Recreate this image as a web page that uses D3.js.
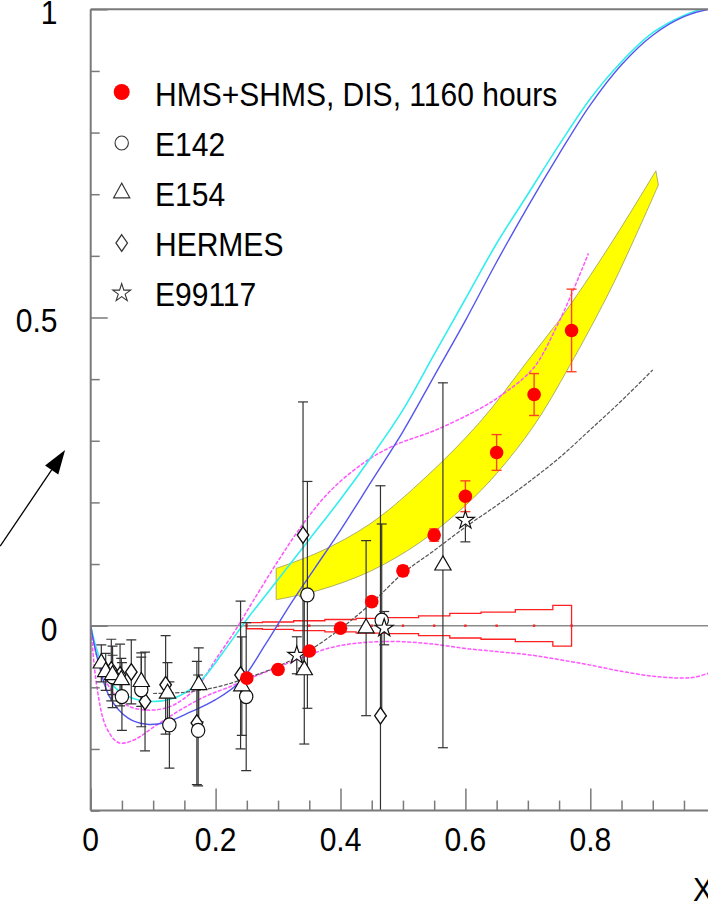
<!DOCTYPE html>
<html><head><meta charset="utf-8">
<script src="https://cdn.jsdelivr.net/npm/d3@7"></script>
<style>html,body{margin:0;padding:0;background:#fff;overflow:hidden}
text{font-family:"Liberation Sans",Arial,Helvetica,sans-serif;font-size:33px;fill:#000}</style>
</head><body><svg id="c" width="708" height="907"></svg>
<script>
// ---------------- data ----------------
const hmsX   = [0.25, 0.30, 0.35, 0.40, 0.45, 0.50, 0.55, 0.60, 0.65, 0.71, 0.77];
const hmsY   = [-0.085, -0.071, -0.041, -0.004, 0.039, 0.089, 0.147, 0.210, 0.281, 0.375, 0.479];
const hmsErr = [0.004, 0.004, 0.005, 0.006, 0.007, 0.008, 0.010, 0.025, 0.029, 0.034, 0.067];
const hmsSys = [0.005, 0.006, 0.008, 0.010, 0.012, 0.013, 0.016, 0.020, 0.022, 0.026, 0.033];

const e142X   = [0.035, 0.050, 0.081, 0.126, 0.172, 0.249, 0.347, 0.466];
const e142Y   = [-0.083, -0.115, -0.104, -0.161, -0.170, -0.115, 0.050, 0.009];
const e142Err = [0.050, 0.055, 0.060, 0.070, 0.090, 0.120, 0.184, 0.156];

const e154X   = [0.017, 0.024, 0.035, 0.049, 0.081, 0.123, 0.173, 0.242, 0.342, 0.441, 0.564];
const e154Y   = [-0.061, -0.075, -0.080, -0.088, -0.091, -0.110, -0.096, -0.098, -0.072, -0.004, 0.098];
const e154Err = [0.030, 0.030, 0.032, 0.035, 0.040, 0.050, 0.060, 0.080, 0.120, 0.142, 0.296];

const hermesX   = [0.033, 0.047, 0.065, 0.087, 0.120, 0.170, 0.240, 0.340, 0.464];
const hermesY   = [-0.072, -0.080, -0.075, -0.123, -0.096, -0.158, -0.080, 0.147, -0.146];
const hermesErr = [0.050, 0.050, 0.052, 0.080, 0.080, 0.100, 0.120, 0.216, 0.373];

const e99X   = [0.33, 0.47, 0.60];
const e99Y   = [-0.048, -0.004, 0.171];
const e99Err = [0.030, 0.027, 0.035];

// model curves: [x, y]
const cyanCurve = [[0,0],[0.01,-0.04],[0.03,-0.09],[0.06,-0.115],[0.10,-0.123],[0.14,-0.115],[0.18,-0.085],[0.21,-0.046],[0.25,0.01],[0.30,0.075],[0.35,0.14],[0.40,0.205],[0.45,0.275],[0.50,0.35],[0.55,0.44],[0.60,0.53],[0.65,0.62],[0.70,0.70],[0.75,0.78],[0.80,0.855],[0.85,0.915],[0.90,0.962],[0.95,0.99],[0.98,1.0],[1.0,1.0]];
const blueCurve = [[0,0],[0.01,-0.05],[0.03,-0.115],[0.06,-0.15],[0.09,-0.16],[0.12,-0.157],[0.16,-0.14],[0.20,-0.12],[0.24,-0.09],[0.28,-0.03],[0.32,0.035],[0.36,0.095],[0.40,0.155],[0.45,0.235],[0.50,0.315],[0.55,0.405],[0.60,0.495],[0.65,0.59],[0.70,0.68],[0.75,0.765],[0.80,0.845],[0.85,0.91],[0.90,0.958],[0.95,0.988],[0.99,1.0],[1.0,1.0]];
const magUpper = [[0,0],[0.01,-0.05],[0.03,-0.10],[0.06,-0.13],[0.095,-0.137],[0.13,-0.13],[0.17,-0.10],[0.20,-0.055],[0.23,-0.01],[0.26,0.04],[0.30,0.105],[0.34,0.165],[0.383,0.218],[0.437,0.264],[0.485,0.292],[0.554,0.318],[0.623,0.352],[0.655,0.372],[0.709,0.418],[0.746,0.485],[0.773,0.545],[0.797,0.604]];
const magLower = [[0,0],[0.01,-0.10],[0.025,-0.165],[0.045,-0.19],[0.07,-0.185],[0.10,-0.165],[0.143,-0.137],[0.183,-0.115],[0.223,-0.099],[0.263,-0.082],[0.303,-0.066],[0.343,-0.05],[0.383,-0.036],[0.42,-0.029],[0.46,-0.026],[0.50,-0.026],[0.55,-0.03],[0.60,-0.037],[0.65,-0.042],[0.70,-0.047],[0.75,-0.055],[0.80,-0.064],[0.85,-0.074],[0.90,-0.082],[0.95,-0.085],[0.97,-0.083],[0.99,-0.077],[1.0,-0.075]];
const blackCurve = [[0.10,-0.11],[0.15,-0.108],[0.20,-0.10],[0.25,-0.085],[0.30,-0.066],[0.35,-0.04],[0.40,-0.005],[0.45,0.037],[0.50,0.085],[0.55,0.122],[0.60,0.16],[0.65,0.195],[0.70,0.232],[0.75,0.272],[0.80,0.318],[0.85,0.365],[0.90,0.415]];
const bandUpper = [[0.297,0.093],[0.367,0.12],[0.447,0.165],[0.527,0.232],[0.623,0.33],[0.70,0.43],[0.762,0.512],[0.837,0.626],[0.905,0.738]];
const bandLower = [[0.297,0.042],[0.367,0.058],[0.447,0.088],[0.527,0.135],[0.60,0.195],[0.65,0.247],[0.71,0.325],[0.766,0.42],[0.837,0.555],[0.909,0.715]];

const xMajor = [0, 0.2, 0.4, 0.6, 0.8, 1.0];
const xLabels = ["0", "0.2", "0.4", "0.6", "0.8", "1"];
const yMajor = [0, 0.5, 1];
const yLabels = ["0", "0.5", "1"];
const legendItems = ["HMS+SHMS, DIS, 1160 hours", "E142", "E154", "HERMES", "E99117"];
const arrowTail = [-0.145, 0.129];
const arrowTip = [-0.041, 0.285];

// ---------------- drawing ----------------
const svg = d3.select("#c");
const W = 708, H = 907;
const x = d3.scaleLinear().domain([0, 1]).range([90.7, 715.2]);
const y = d3.scaleLinear().domain([-0.3, 1]).range([810.6, 9.3]);
const axisCol = "#7a7a7a";

svg.append("defs").append("clipPath").attr("id", "pc")
  .append("rect").attr("x", x(0)).attr("y", y(1)).attr("width", x(1) - x(0)).attr("height", y(-0.3) - y(1));

const plot = svg.append("g").attr("clip-path", "url(#pc)");

// zero line
plot.append("line").attr("x1", x(0)).attr("x2", x(1)).attr("y1", y(0)).attr("y2", y(0))
  .attr("stroke", "#8a8a8a").attr("stroke-width", 1.5);

// yellow band
const smooth = d3.line().x(d => x(d[0])).y(d => y(d[1])).curve(d3.curveCatmullRom.alpha(0.5));
const upPath = smooth(bandUpper);
const loPath = smooth(bandLower.slice().reverse());
plot.append("path")
  .attr("d", upPath + "L" + loPath.slice(1) + "Z")
  .attr("fill", "#ffff00").attr("stroke", "#9a9a60").attr("stroke-width", 0.8);

// red systematic box (stepped)
const sysData = hmsX.map((v, i) => ({x: v, s: hmsSys[i]}));
plot.append("path")
  .attr("d", d3.area().x(d => x(d.x)).y0(d => y(-d.s)).y1(d => y(d.s)).curve(d3.curveStep)(sysData))
  .attr("fill", "none").attr("stroke", "#ff2020").attr("stroke-width", 1.3);
plot.selectAll(".sysdot").data(hmsX).join("rect")
  .attr("x", d => x(d) - 1.2).attr("y", y(0) - 1.2).attr("width", 2.4).attr("height", 2.4).attr("fill", "#ff2020");

// curves
const ln = smooth;
plot.append("path").attr("d", ln(magLower)).attr("fill", "none").attr("stroke", "#ff55ff").attr("stroke-width", 1.5).attr("stroke-dasharray", "4,1.5");
plot.append("path").attr("d", ln(magUpper)).attr("fill", "none").attr("stroke", "#ff55ff").attr("stroke-width", 1.5).attr("stroke-dasharray", "4,1.5");
plot.append("path").attr("d", ln(cyanCurve)).attr("fill", "none").attr("stroke", "#33eeee").attr("stroke-width", 1.6);
plot.append("path").attr("d", ln(blueCurve)).attr("fill", "none").attr("stroke", "#5555ee").attr("stroke-width", 1.4);
plot.append("path").attr("d", ln(blackCurve)).attr("fill", "none").attr("stroke", "#555").attr("stroke-width", 1.2).attr("stroke-dasharray", "4,1.5");

// error bars helper
function errBars(xs, ys, es, col, w) {
  const g = plot.append("g").attr("stroke", col).attr("stroke-width", w);
  xs.forEach((v, i) => {
    g.append("line").attr("x1", x(v)).attr("x2", x(v)).attr("y1", y(ys[i] - es[i])).attr("y2", y(ys[i] + es[i]));
    [ys[i] - es[i], ys[i] + es[i]].forEach(t => {
      g.append("line").attr("x1", x(v) - 5).attr("x2", x(v) + 5).attr("y1", y(t)).attr("y2", y(t));
    });
  });
}
errBars(hermesX, hermesY, hermesErr, "#333", 1.2);
errBars(e142X, e142Y, e142Err, "#333", 1.2);
errBars(e154X, e154Y, e154Err, "#333", 1.2);
errBars(e99X, e99Y, e99Err, "#333", 1.2);
errBars(hmsX, hmsY, hmsErr, "#ff4422", 1.4);

// marker shapes
const sym = {
  circle: d3.symbol().type(d3.symbolCircle).size(140),
  triangle: d3.symbol().type(d3.symbolTriangle).size(115),
  diamond: d3.symbol().type(d3.symbolDiamond).size(80),
  star: d3.symbol().type(d3.symbolStar).size(100)
};
function markers(parent, xs, ys, shape, sx, sy) {
  xs.forEach((v, i) => {
    const px = x(v), py = y(ys[i]);
    parent.append("path").attr("d", sym[shape]())
      .attr("transform", `translate(${px},${py}) scale(${sx},${sy})`)
      .attr("fill", "#fff").attr("stroke", "#111").attr("stroke-width", 1.2);
  });
}
markers(plot, hermesX, hermesY, "diamond", 1.2, 1.0);
markers(plot, e142X, e142Y, "circle", 1, 1.05);
markers(plot, e154X, e154Y, "triangle", 1, 1);
markers(plot, e99X, e99Y, "star", 1, 1);

plot.selectAll(".hms").data(hmsX).join("circle")
  .attr("cx", d => x(d)).attr("cy", (d, i) => y(hmsY[i])).attr("r", 6.8).attr("fill", "#ff0000");

// axes frame
const frame = svg.append("g").attr("stroke", axisCol).attr("stroke-width", 2).attr("fill", "none");
frame.append("line").attr("x1", x(0)).attr("x2", W).attr("y1", y(1)).attr("y2", y(1));
frame.append("line").attr("x1", x(0)).attr("x2", W).attr("y1", y(-0.3)).attr("y2", y(-0.3));
frame.append("line").attr("x1", x(0)).attr("x2", x(0)).attr("y1", y(1)).attr("y2", y(-0.3));

// x ticks
const xMinor = d3.range(0, 1.0001, 0.05).filter(v => !xMajor.some(m => Math.abs(m - v) < 1e-6));
const xAx = d3.axisBottom(x).tickValues(xMajor).tickSizeInner(-22).tickSizeOuter(0).tickFormat("");
const xAxMinor = d3.axisBottom(x).tickValues(xMinor).tickSizeInner(-10).tickSizeOuter(0).tickFormat("");
[xAx, xAxMinor].forEach(a => {
  const g = svg.append("g").attr("transform", `translate(0,${y(-0.3)})`).call(a);
  g.select(".domain").remove();
  g.selectAll("line").attr("stroke", axisCol).attr("stroke-width", 1.5);
});
// y ticks
const yMinor = d3.range(-0.3, 1.0001, 0.1).filter(v => !yMajor.some(m => Math.abs(m - v) < 1e-6));
const yAx = d3.axisLeft(y).tickValues(yMajor).tickSizeInner(-17).tickSizeOuter(0).tickFormat("");
const yAxMinor = d3.axisLeft(y).tickValues(yMinor).tickSizeInner(-9).tickSizeOuter(0).tickFormat("");
[yAx, yAxMinor].forEach(a => {
  const g = svg.append("g").attr("transform", `translate(${x(0)},0)`).call(a);
  g.select(".domain").remove();
  g.selectAll("line").attr("stroke", axisCol).attr("stroke-width", 1.5);
});

// labels
function label(px, py, str, anchor) {
  svg.append("text").attr("transform", `translate(${px},${py}) scale(0.91,1)`)
    .attr("text-anchor", anchor).text(str);
}
xMajor.forEach((v, i) => label(x(v), 851, xLabels[i], "middle"));
yMajor.forEach((v, i) => label(57.5, y(v) + 15, yLabels[i], "end"));
label(693, 901, "X", "start");

// legend
const legY0 = 106, legDY = 50, legMx = 121.7, legTx = 155;
legendItems.forEach((t, i) => label(legTx, legY0 + i * legDY, t, "start"));
const legG = svg.append("g");
legG.append("circle").attr("cx", legMx).attr("cy", legY0 - 14).attr("r", 8).attr("fill", "#ff0000");
const legShapes = [["circle", 1, 1.05], ["triangle", 1.0, 1.05], ["diamond", 1.2, 1.0], ["star", 1, 1]];
legShapes.forEach((s, i) => {
  legG.append("path").attr("d", sym[s[0]]())
    .attr("transform", `translate(${legMx},${legY0 + (i + 1) * legDY - 13}) scale(${s[1]},${s[2]})`)
    .attr("fill", "#fff").attr("stroke", "#333").attr("stroke-width", 1.1);
});

// arrow
const ax1 = x(arrowTail[0]), ay1 = y(arrowTail[1]), ax2 = x(arrowTip[0]), ay2 = y(arrowTip[1]);
const ang = Math.atan2(ay2 - ay1, ax2 - ax1);
const hl = 24, hw = 8;
const bx = ax2 - hl * Math.cos(ang), by = ay2 - hl * Math.sin(ang);
svg.append("line").attr("x1", ax1).attr("y1", ay1).attr("x2", bx).attr("y2", by).attr("stroke", "#000").attr("stroke-width", 1.3);
svg.append("path").attr("d", `M${ax2},${ay2} L${bx + hw * Math.sin(ang)},${by - hw * Math.cos(ang)} L${bx - hw * Math.sin(ang)},${by + hw * Math.cos(ang)} Z`).attr("fill", "#000");
</script></body></html>
